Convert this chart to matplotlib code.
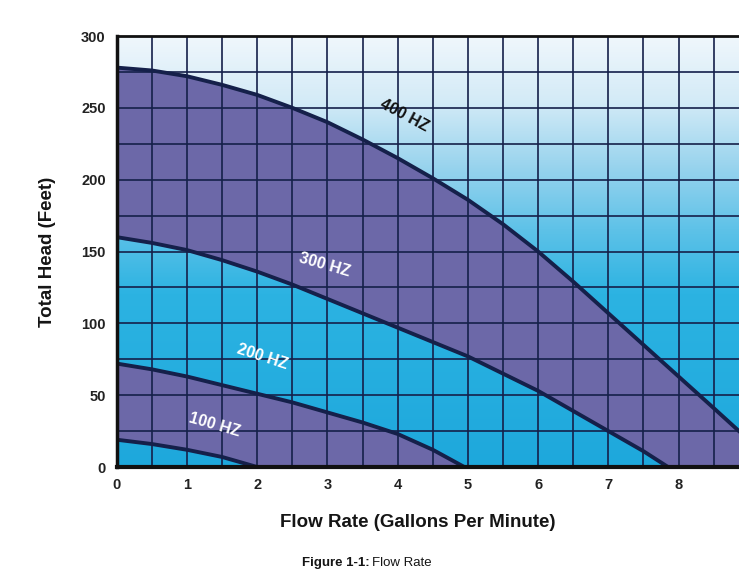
import numpy as np
import matplotlib

matplotlib.use("Agg")
import matplotlib.pyplot as plt
from matplotlib.colors import LinearSegmentedColormap

plt.rcParams["font.family"] = ["Liberation Sans", "DejaVu Sans"]

# Pump curves (flow gpm -> head ft)
hz400_x = [0, 0.5, 1, 1.5, 2, 2.5, 3, 3.5, 4, 4.5, 5, 5.5, 6, 6.5, 7, 7.5, 8, 8.5, 8.86]
hz400_y = [278, 276, 272, 266, 259, 250, 240, 228, 215, 201, 186, 169, 150, 129, 107, 85, 63, 41, 25]
hz300_x = [0, 0.5, 1, 1.5, 2, 2.5, 3, 3.5, 4, 4.5, 5, 5.5, 6, 6.5, 7, 7.5, 7.85]
hz300_y = [160, 156, 151, 144, 136, 127, 117, 107, 97, 87, 77, 65, 53, 39, 25, 11, 0]
hz200_x = [0, 0.5, 1, 1.5, 2, 2.5, 3, 3.5, 4, 4.5, 4.95]
hz200_y = [72, 68, 63, 57, 51, 45, 38, 31, 23, 12, 0]
hz100_x = [0, 0.5, 1, 1.5, 2]
hz100_y = [19, 16, 12, 7, 0]

labels = ["400 HZ", "300 HZ", "200 HZ", "100 HZ"]
x_ticks = [0, 1, 2, 3, 4, 5, 6, 7, 8]
y_ticks = [0, 50, 100, 150, 200, 250, 300]

XMAX = 8.86
PURPLE = "#6c68a8"
NAVY = "#15204a"

fig = plt.figure(figsize=(7.39, 5.77), dpi=100)
ax = fig.add_axes([0.158, 0.1906, 0.842, 0.747])

# vertical background gradient: pale at top, saturated cyan at bottom
grad = LinearSegmentedColormap.from_list(
    "bg",
    [(0.0, "#1ea8dc"), (0.4, "#2cb3e2"), (0.55, "#5ec2e8"),
     (0.7, "#9ad4ee"), (0.85, "#d4ebf7"), (1.0, "#f0f7fc")],
)
ax.imshow(np.linspace(0, 1, 256).reshape(-1, 1), cmap=grad, origin="lower",
          extent=[0, XMAX, 0, 300], aspect="auto", zorder=0)

# purple bands between 400/300 and 200/100 curves
x_fine = np.linspace(0, XMAX, 400)
c400 = np.interp(x_fine, hz400_x, hz400_y)
c300 = np.interp(x_fine, hz300_x, hz300_y, right=0)
c200 = np.interp(x_fine, hz200_x, hz200_y, right=0)
c100 = np.interp(x_fine, hz100_x, hz100_y, right=0)
ax.fill_between(x_fine, c300, c400, color=PURPLE, lw=0, zorder=1)
ax.fill_between(x_fine, c100, c200, color=PURPLE, lw=0, zorder=1)

# grid every 0.5 gpm and 25 ft
for gx in np.arange(0.5, XMAX, 0.5):
    ax.axvline(gx, color=NAVY, lw=1.2, zorder=2)
for gy in np.arange(25, 300, 25):
    ax.axhline(gy, color=NAVY, lw=1.2, zorder=2)

for xs, ys in [(hz400_x, hz400_y), (hz300_x, hz300_y),
               (hz200_x, hz200_y), (hz100_x, hz100_y)]:
    ax.plot(xs, ys, color=NAVY, lw=2.8, zorder=3, solid_joinstyle="round")

lab_pos = [(4.10, 245, -28, "#111111"), (2.96, 141, -16, "white"),
           (2.07, 77, -18, "white"), (1.40, 29, -16, "white")]
for text, (lx, ly, rot, col) in zip(labels, lab_pos):
    ax.text(lx, ly, text, rotation=rot, color=col, fontsize=11.5,
            fontweight="bold", ha="center", va="center", zorder=4)

ax.set_xlim(0, XMAX)
ax.set_ylim(0, 300)
ax.set_xticks(x_ticks)
ax.set_yticks(y_ticks)
ax.tick_params(length=0, labelsize=10.5, labelcolor="#222222", pad=8)
for lbl in ax.get_xticklabels() + ax.get_yticklabels():
    lbl.set_fontweight("bold")
for side in ["left", "bottom", "top"]:
    ax.spines[side].set_color("#111111")
    ax.spines[side].set_zorder(5)
ax.spines["left"].set_linewidth(2.5)
ax.spines["bottom"].set_linewidth(3)
ax.spines["top"].set_linewidth(2)
ax.spines["right"].set_visible(False)

ax.set_ylabel("Total Head (Feet)", fontsize=13.5, fontweight="bold",
              color="#151515", labelpad=18)
fig.text(0.565, 0.095, "Flow Rate (Gallons Per Minute)", fontsize=13.5,
         fontweight="bold", color="#151515", ha="center", va="center")
fig.text(0.5, 0.024, "Figure 1-1:", fontsize=9.5, fontweight="bold",
         color="#151515", ha="right", va="center")
fig.text(0.503, 0.024, "Flow Rate", fontsize=9.5, color="#151515",
         ha="left", va="center")

fig.savefig("out.png", dpi=100)
